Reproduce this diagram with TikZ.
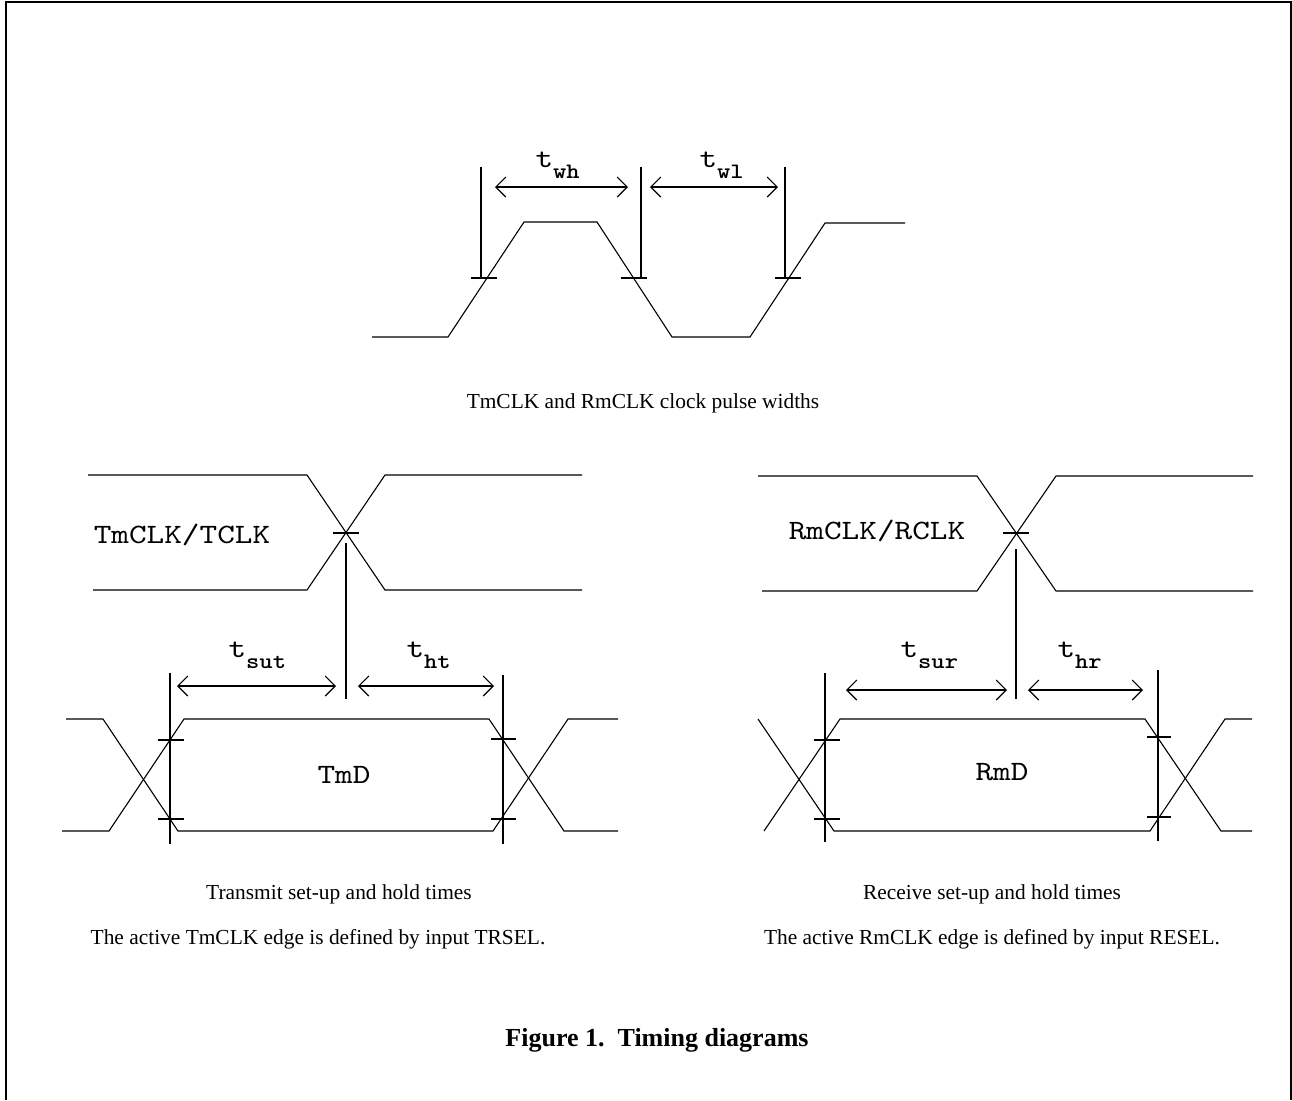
\documentclass[tikz,border=0pt]{standalone}
\usepackage{fontspec}
\setmainfont{Liberation Serif}
\newfontfamily\sigmono{lmmono10-regular}[Extension=.otf,FakeStretch=1.2]
\newfontfamily\submono{lmmonolt10-bold}[Extension=.otf,FakeStretch=1.15]
\usetikzlibrary{arrows.meta}
\newcommand{\sig}{\sigmono\fontsize{14}{17}\selectfont}
\newcommand{\tlab}[1]{{\sig t}\lower5.8pt\hbox{\submono\fontsize{11}{13}\selectfont #1}}
\tikzset{
  dim/.style={{Straight Barb[length=5pt,width=10pt]}-{Straight Barb[length=5pt,width=10pt]}},
  capt/.style={anchor=base,inner sep=0pt,font=\fontsize{10.7}{13}\selectfont},
  tl/.style={anchor=base west,inner sep=0pt}
}
\begin{document}
\begin{tikzpicture}[x=0.5pt,y=-0.5pt,line width=0.55pt]
\useasboundingbox (0,0) rectangle (1292,1100);
\draw[line width=1pt] (5.5,1100) -- (5.5,1.5) -- (1290.5,1.5) -- (1290.5,1100);
\path
    (535,167)  node[tl]                 (twh) {\tlab{wh}}
    (699,167)  node[tl]                 (twl) {\tlab{wl}}
    (643,408)  node[capt]               (pw) {TmCLK and RmCLK clock pulse widths}
    (182,543)  node[anchor=base,inner sep=0pt] (tclk) {\sig TmCLK/TCLK}
    (344,783)  node[anchor=base,inner sep=0pt] (tmd) {\sig TmD}
    (228,657)  node[tl]                 (tsut) {\tlab{sut}}
    (406,657)  node[tl]                 (tht) {\tlab{ht}}
    (339,899)  node[capt]               (tx) {Transmit set-up and hold times}
    (318,944)  node[capt]               (txa) {The active TmCLK edge is defined by input TRSEL.}
    (877,539)  node[anchor=base,inner sep=0pt] (rclk) {\sig RmCLK/RCLK}
    (1002,780) node[anchor=base,inner sep=0pt] (rmd) {\sig RmD}
    (900,657)  node[tl]                 (tsur) {\tlab{sur}}
    (1057,657) node[tl]                 (thr) {\tlab{hr}}
    (992,899)  node[capt]               (rx) {Receive set-up and hold times}
    (992,944)  node[capt]               (rxa) {The active RmCLK edge is defined by input RESEL.}
    (657,1046) node[anchor=base,inner sep=0pt] (fig) {\fontsize{13}{16}\selectfont\bfseries Figure 1.\ \ Timing diagrams};
\draw (372,337) -- (448,337) -- (524,222) -- (597,222) -- (672,337) -- (750,337) -- (825,223) -- (905,223);
\draw (481,167) -- (481,278) (471,278) -- (497,278);
\draw (641,167) -- (641,278) (621,278) -- (647,278);
\draw (785,167) -- (785,278) (775,278) -- (801,278);
\draw[dim] (495,187) -- (628,187);
\draw[dim] (650,187) -- (778,187);
\draw (88,475) -- (307,475) -- (385,590) -- (582,590);
\draw (93,590) -- (307,590) -- (385,475) -- (582,475);
\draw (333,533) -- (359,533) (346,543) -- (346,699);
\draw[dim] (177,686) -- (336,686);
\draw[dim] (358,686) -- (494,686);
\draw (170,673) -- (170,844) (503,675) -- (503,844);
\draw (66,719) -- (103,719) -- (178,831) -- (493,831) -- (568,719) -- (618,719);
\draw (62,831) -- (109,831) -- (184,719) -- (489,719) -- (564,831) -- (618,831);
\draw (158,740) -- (184,740) (158,819) -- (184,819) (491,739) -- (516,739) (491,819) -- (516,819);
\draw (758,476) -- (977,476) -- (1056,591) -- (1253,591);
\draw (762,591) -- (977,591) -- (1056,476) -- (1253,476);
\draw (1003,533) -- (1029,533) (1016,549) -- (1016,699);
\draw[dim] (846,690) -- (1007,690);
\draw[dim] (1028,690) -- (1143,690);
\draw (825,673) -- (825,842) (1158,670) -- (1158,841);
\draw (758,719) -- (834,831) -- (1150,831) -- (1225,719) -- (1252,719);
\draw (764,831) -- (840,719) -- (1145,719) -- (1221,831) -- (1252,831);
\draw (814,740) -- (840,740) (814,819) -- (840,819) (1147,737) -- (1171,737) (1147,817) -- (1171,817);
\end{tikzpicture}
\end{document}
